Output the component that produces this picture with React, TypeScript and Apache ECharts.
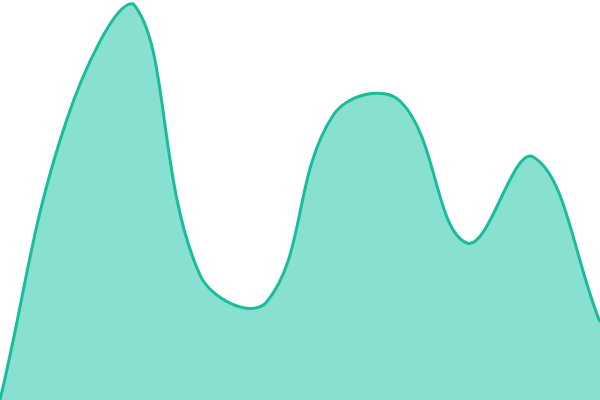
import { useEffect, useRef } from 'react';
import * as echarts from 'echarts';

const categories = ['1', '2', '3', '4', '5', '6', '7', '8', '9', '10'];
const values = [0, 280, 396, 125, 98, 285, 299, 157, 243, 78];

const TENSION = 0.4;

// spline through the points, control points kept inside the plot area
function renderCurve(params: any, api: any) {
  if (params.dataIndex !== 0) return null;
  const pts = values.map((v, i) => api.coord([i, v]));
  const top = api.coord([0, 400])[1];
  const base = api.coord([0, 0])[1];
  const left = pts[0][0];
  const right = pts[pts.length - 1][0];
  const cx = (x: number) => Math.min(Math.max(x, left), right);
  const cy = (y: number) => Math.min(Math.max(y, top), base);
  const n = pts.length;
  const cps = pts.map((p, i) => {
    const prev = pts[Math.max(i - 1, 0)];
    const next = pts[Math.min(i + 1, n - 1)];
    const d01 = Math.hypot(p[0] - prev[0], p[1] - prev[1]);
    const d12 = Math.hypot(next[0] - p[0], next[1] - p[1]);
    const sum = d01 + d12 || 1;
    const fa = (TENSION * d01) / sum;
    const fb = (TENSION * d12) / sum;
    const dx = next[0] - prev[0];
    const dy = next[1] - prev[1];
    return {
      pin: [cx(p[0] - fa * dx), cy(p[1] - fa * dy)],
      pout: [cx(p[0] + fb * dx), cy(p[1] + fb * dy)],
    };
  });
  let d = `M${pts[0][0]},${pts[0][1]}`;
  for (let i = 1; i < n; i++) {
    const a = cps[i - 1].pout;
    const b = cps[i].pin;
    d += ` C${a[0]},${a[1]} ${b[0]},${b[1]} ${pts[i][0]},${pts[i][1]}`;
  }
  const area = `${d} L${right},${base} L${left},${base} Z`;
  return {
    type: 'group',
    children: [
      { type: 'path', shape: { pathData: area }, style: { fill: '#88e0d0', stroke: 'none' } },
      { type: 'path', shape: { pathData: d }, style: { fill: 'none', stroke: '#1abc9c', lineWidth: 3 } },
    ],
  };
}

export default function App() {
  const ref = useRef<HTMLDivElement>(null);

  useEffect(() => {
    if (!ref.current) return;
    const chart = echarts.init(ref.current, undefined, { renderer: 'svg' });
    chart.setOption({
      animation: false,
      grid: { left: 0, right: 0, top: 0, bottom: 0 },
      xAxis: { type: 'category', data: categories, boundaryGap: false, show: false },
      yAxis: { type: 'value', min: 0, max: 400, show: false },
      series: [{
        type: 'custom',
        data: values.map((v, i) => [i, v]),
        encode: { x: 0, y: 1 },
        renderItem: renderCurve,
        silent: true,
      }],
    });
    return () => chart.dispose();
  }, []);

  return <div ref={ref} style={{ position: 'fixed', left: 0, top: 0, width: 600, height: 400 }} />;
}
